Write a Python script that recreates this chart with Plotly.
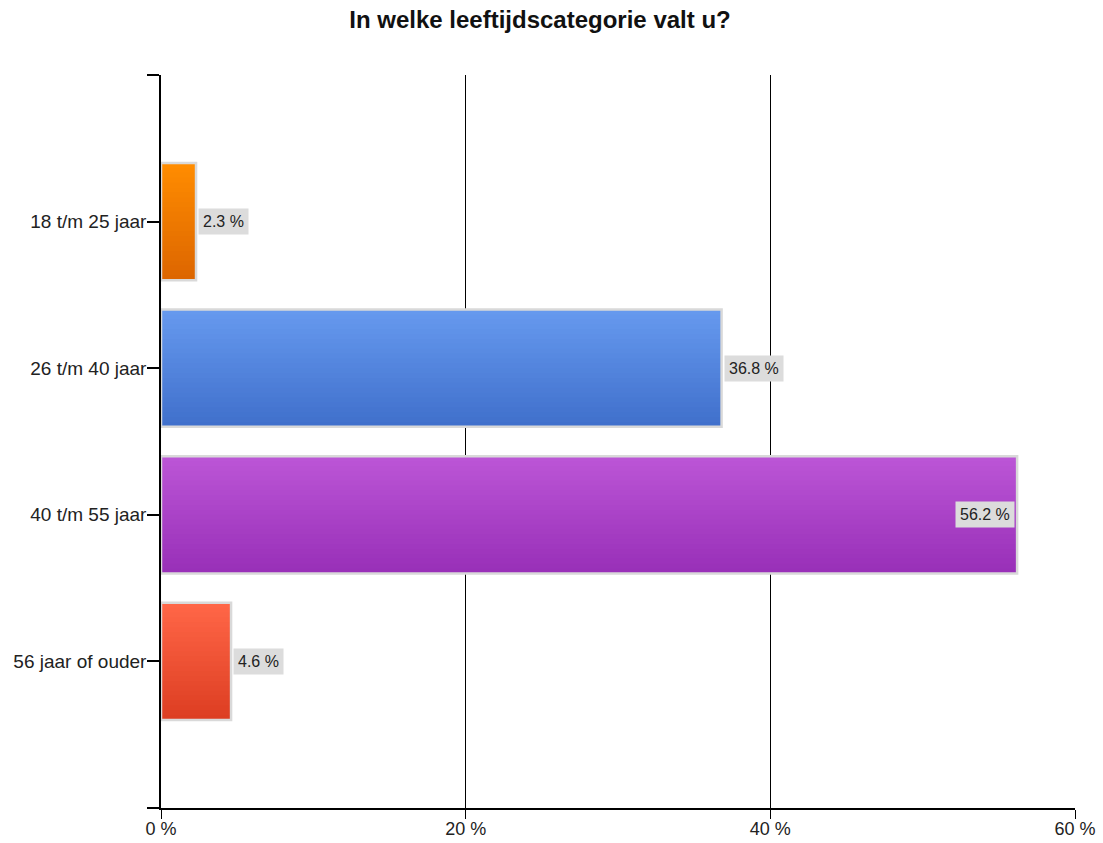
import plotly.graph_objects as go

categories = ["18 t/m 25 jaar", "26 t/m 40 jaar", "40 t/m 55 jaar", "56 jaar of ouder"]
values = [2.3, 36.8, 56.2, 4.6]
labels = ["2.3 %", "36.8 %", "56.2 %", "4.6 %"]
top_colors = ["#FF8C00", "#6699EE", "#BB55D6", "#FF6647"]
bottom_colors = ["#DD6600", "#4070CC", "#9930B8", "#DD3E22"]
x_ticks = [0, 20, 40, 60]
x_ticktext = ["0 %", "20 %", "40 %", "60 %"]

pos = list(range(len(categories)))
bar_w = 0.8
n_steps = 24
FONT = "Liberation Sans, Arial, sans-serif"


def hex2rgb(h):
    h = h.lstrip("#")
    return [int(h[i:i + 2], 16) for i in (0, 2, 4)]


def mix(c1, c2, t):
    a, b = hex2rgb(c1), hex2rgb(c2)
    return "rgb(%d,%d,%d)" % tuple(round(a[i] + (b[i] - a[i]) * t) for i in range(3))


fig = go.Figure()

# vertical gradient built from overlaid bars sharing the top edge
for k in range(n_steps):
    frac = (n_steps - k) / n_steps
    t = 1 - (k / (n_steps - 1))  # 1 -> bottom color, 0 -> top color
    cols = [mix(top_colors[i], bottom_colors[i], t) for i in range(len(values))]
    fig.add_trace(go.Bar(
        x=values, y=pos, orientation="h",
        width=bar_w * frac, offset=-bar_w / 2,
        marker=dict(color=cols, line=dict(width=0)),
        hoverinfo="skip", showlegend=False,
    ))

# outline
fig.add_trace(go.Bar(
    x=values, y=pos, orientation="h",
    width=bar_w, offset=-bar_w / 2,
    marker=dict(color="rgba(0,0,0,0)", line=dict(color="#D9D9D9", width=2.5)),
    showlegend=False,
))

for i, v in enumerate(values):
    inside = v > 50
    fig.add_annotation(
        x=v, y=pos[i], text=labels[i], showarrow=False,
        xanchor="right" if inside else "left",
        xshift=-2 if inside else 2,
        bgcolor="#DCDCDC", borderpad=4,
        font=dict(family=FONT, size=16, color="#222"),
    )

fig.update_layout(
    barmode="overlay",
    width=1103, height=843,
    margin=dict(l=161, r=28, t=75, b=35),
    paper_bgcolor="white", plot_bgcolor="white",
    title=dict(text="<b>In welke leeftijdscategorie valt u?</b>",
               x=540 / 1103, xref="container", xanchor="center",
               y=1 - 20 / 843, yref="container", yanchor="middle",
               font=dict(family=FONT, size=24, color="#111")),
    font=dict(family=FONT, size=19, color="#222"),
    xaxis=dict(range=[0, 60], tickvals=x_ticks, ticktext=x_ticktext,
               tickfont=dict(size=18),
               showgrid=True, gridcolor="black", gridwidth=1,
               showline=True, linecolor="black", linewidth=1.5,
               ticks="outside", ticklen=9, tickcolor="black", tickwidth=1,
               ticklabelstandoff=-5,
               zeroline=False, fixedrange=True, automargin=False),
    yaxis=dict(range=[len(categories), -1],
               tickvals=[-1] + pos + [len(categories)],
               ticktext=[""] + categories + [""],
               showgrid=False, showline=True, linecolor="black", linewidth=1.5,
               ticks="outside", ticklen=12, tickcolor="black", tickwidth=1.5,
               ticklabelstandoff=-3,
               zeroline=False, automargin=False),
)

fig.write_html("out.html", config={"displayModeBar": False},
               post_script="document.body.style.margin='0';document.body.style.overflow='hidden';")
